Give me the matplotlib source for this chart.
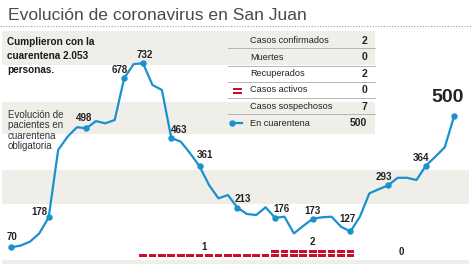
import numpy as np
import matplotlib.pyplot as plt
from matplotlib.patches import Rectangle
from matplotlib.lines import Line2D

# Data
quarantine = [70, 76, 90, 120, 178, 420, 468, 502, 498, 524, 516, 528,
              678, 729, 732, 654, 636, 463, 450, 408, 361, 294, 246, 258,
              213, 190, 186, 214, 176, 180, 120, 147, 173, 178, 180, 144,
              127, 180, 264, 279, 293, 320, 320, 312, 364, 396, 430, 543]
active = [0] * 14 + [1] * 14 + [2] * 9 + [0] * 11
marked_days = [0, 4, 8, 12, 14, 17, 20, 24, 28, 32, 36, 40, 44, 47]
marked_labels = ['70', '178', '498', '678', '732', '463', '361', '213',
                 '176', '173', '127', '293', '364', '500']
# label offsets in pixels
label_offsets = [(1, 10), (-9, 5), (-2, 10), (-4, 8), (2, 8), (8, 8), (5, 11),
                 (5, 9), (6, 9), (0, 8), (-3, 12), (-4, 8), (-5, 8), (-7, 18)]

table_rows = ['Casos confirmados', 'Muertes', 'Recuperados', 'Casos activos',
              'Casos sospechosos', 'En cuarentena']
table_values = ['2', '0', '2', '0', '7', '500']

W, H = 471, 264
BLUE = '#1a90cf'
RED = '#c8102e'
BAND = '#efeee9'
plt.rcParams['font.family'] = ['Liberation Sans Narrow', 'Liberation Sans', 'DejaVu Sans']
REG = ['Liberation Sans', 'DejaVu Sans']

fig = plt.figure(figsize=(W / 100, H / 100), dpi=100)


def fx(x):
    return x / W


def fy(y):
    return 1 - y / H


def band(x0, y0, x1, y1):
    fig.add_artist(Rectangle((fx(x0), fy(y1)), fx(x1) - fx(x0), fy(y0) - fy(y1),
                             transform=fig.transFigure, facecolor=BAND,
                             edgecolor='none', zorder=-2))


band(2, 31, 375, 65)
band(2, 102, 375, 134)
band(2, 170, 469, 204)
band(2, 260, 469, 266)

ax = fig.add_axes([0, 0, 1, 1])
ax.patch.set_alpha(0)
ax.axis('off')
ax.set_xlim(-11 / 9.43, (W - 11) / 9.43)
ax.set_ylim(70 - (H - 247.3) / 0.278, 70 + 247.3 / 0.278)

days = np.arange(len(quarantine))
ax.plot(days, quarantine, color=BLUE, lw=1.6, solid_joinstyle='round', zorder=3)
ax.plot(days[marked_days], np.array(quarantine)[marked_days], 'o', color=BLUE,
        ms=3.6, zorder=4)
for d, lab, off in zip(marked_days, marked_labels, label_offsets):
    big = d == marked_days[-1]
    ax.annotate(lab, (d, quarantine[d]), xytext=off, textcoords='offset pixels',
                ha='center', va='center', fontweight='bold', color='#222222',
                fontsize=14 if big else 7, zorder=5)

# active cases as stacked dashes
for level in range(1, max(active) + 1):
    idx = [i for i, a in enumerate(active) if a >= level]
    ax.bar(idx, [10.8] * len(idx), bottom=34 + 17 * (level - 1), width=0.82,
           color=RED, zorder=3)
ax.text(20.5, 70 + (247.3 - 246.7) / 0.278, '1', ha='center', va='center',
        fontsize=7, fontweight='bold', color='#222222')
ax.text(32, 70 + (247.3 - 241.7) / 0.278, '2', ha='center', va='center',
        fontsize=7, fontweight='bold', color='#222222')
ax.text(41.4, 70 + (247.3 - 252) / 0.278, '0', ha='center', va='center',
        fontsize=7, fontweight='bold', color='#222222')

# title
fig.text(fx(8), fy(15), 'Evolución de coronavirus en San Juan', fontsize=12.6,
         color='#4a4a4a', va='center', ha='left', family=REG)
fig.add_artist(Line2D([0, 1], [fy(26), fy(26)], transform=fig.transFigure,
                      color='#9a9a9a', lw=0.8, ls=(0, (1, 1.5))))

fig.text(fx(7), fy(56), 'Cumplieron con la\ncuarentena 2.053\npersonas.',
         fontsize=7.2, fontweight='bold', color='#1a1a1a', va='center',
         ha='left', linespacing=1.45, family=REG)
fig.text(fx(8), fy(130.5), 'Evolución de\npacientes en\ncuarentena\nobligatoria',
         fontsize=7, color='#333333', va='center', ha='left', linespacing=1.08)

# table
row_y = [40.7, 57.3, 74, 90, 106.7, 123.3]
sep_y = [48.3, 65.7, 81.7, 97.7, 114.3]
for name, val, y in zip(table_rows, table_values, row_y):
    fig.text(fx(250), fy(y), name, fontsize=6.6, color='#222222', va='center',
             ha='left', family=REG)
    fig.text(fx(367), fy(y), val, fontsize=7.5, fontweight='bold', color='#222222',
             va='center', ha='right')
for y in sep_y:
    fig.add_artist(Line2D([fx(228), fx(375)], [fy(y), fy(y)], transform=fig.transFigure,
                          color='#b5b5b5', lw=0.7))
for yy in (88.8, 92.6):
    fig.add_artist(Rectangle((fx(233), fy(yy + 1)), fx(9), 2 / H,
                             transform=fig.transFigure, color=RED, lw=0))
fig.add_artist(Line2D([fx(231.5), fx(242)], [fy(123.3), fy(123.3)],
                      transform=fig.transFigure, color=BLUE, lw=1.6))
fig.add_artist(Line2D([fx(231.5)], [fy(123.3)], transform=fig.transFigure,
                      color=BLUE, marker='o', ms=3.6))

fig.savefig('out.png', dpi=100)
